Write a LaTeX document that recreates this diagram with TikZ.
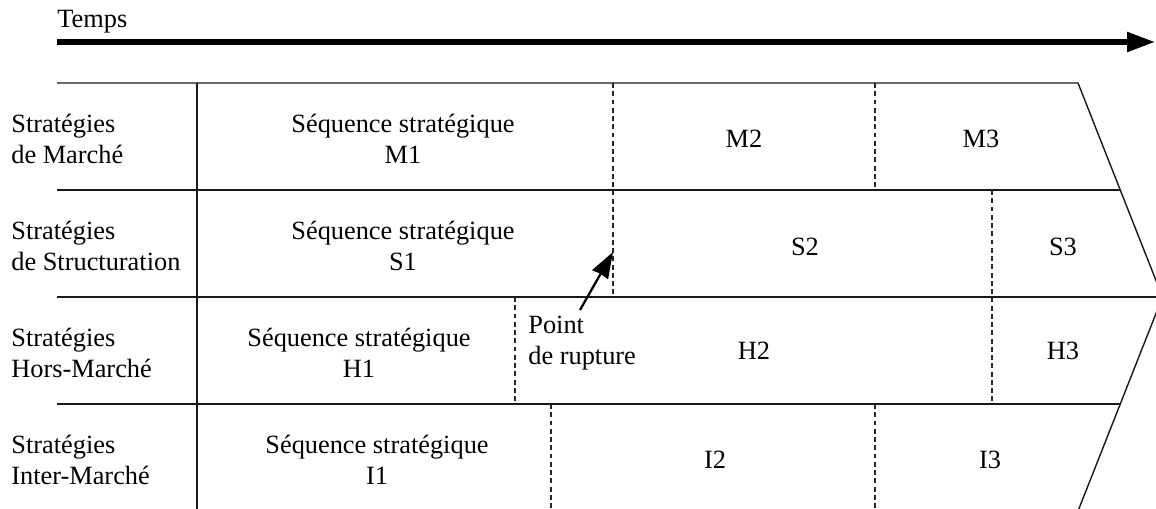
\documentclass[tikz,border=0pt]{standalone}
\usepackage{fontspec}
\setmainfont{Liberation Serif}
\usetikzlibrary{arrows.meta}

\begin{document}
\begin{tikzpicture}[x=0.02cm, y=-0.02cm,
  txt/.style={inner sep=0pt, font=\fontsize{15}{17.6}\selectfont},
  cell/.style={txt, align=center},
  rowlabel/.style={txt, align=left, anchor=west},
  frame/.style={line width=0.8pt, black!90},
  sep/.style={line width=0.7pt, black!85, dash pattern=on 2.8pt off 1.9pt}]
  \useasboundingbox (0,0) rectangle (1156,508);
  \clip (0,0) rectangle (1156,508);

  % Time axis
  \node[txt, anchor=base west] (temps) at (57,27) {Temps};
  \coordinate (t0) at (57,42);
  \coordinate (t1) at (1155,42);
  \draw[line width=3pt, -{Triangle[length=0.56cm, width=0.38cm]}] (t0) -- (t1);

  % Outline, rows end on the chevron
  \def\apex{1162.5}
  \def\slope{0.395}
  \draw[frame] (57,83) -- (1078,83) -- (\apex,297) -- (1078,511) -- (57,511);
  \foreach \y in {190,297,404}
    \draw[frame] (57,\y) -- ({\apex-\slope*abs(297-\y)},\y);
  \draw[frame] (197,83) -- (197,511);

  % Sequence boundaries
  \draw[sep] (613,83) -- (613,297);
  \draw[sep] (875,83) -- (875,190);
  \draw[sep] (992,190) -- (992,404);
  \draw[sep] (515,297) -- (515,404);
  \draw[sep] (551,404) -- (551,511);
  \draw[sep] (875,404) -- (875,511);

  % Row labels
  \node[rowlabel] (lm) at (11,139) {Stratégies\\de Marché};
  \node[rowlabel] (ls) at (11,246) {Stratégies\\de Structuration};
  \node[rowlabel] (lh) at (11,353) {Stratégies\\Hors-Marché};
  \node[rowlabel] (li) at (11,460) {Stratégies\\Inter-Marché};

  % Market row
  \node[cell] (m1) at (403,139) {Séquence stratégique\\M1};
  \node[cell] (m2) at (744,139) {M2};
  \node[cell] (m3) at (981,139) {M3};

  % Structuring row
  \node[cell] (s1) at (403,246) {Séquence stratégique\\S1};
  \node[cell] (s2) at (805,247) {S2};
  \node[cell] (s3) at (1063,247) {S3};

  % Off-market row
  \node[cell] (h1) at (359,353) {Séquence stratégique\\H1};
  \node[cell] (h2) at (754,351) {H2};
  \node[cell] (h3) at (1063,351) {H3};

  % Inter-market row
  \node[cell] (i1) at (377,460) {Séquence stratégique\\I1};
  \node[cell] (i2) at (715,460) {I2};
  \node[cell] (i3) at (990,460) {I3};

  % Break point
  \node[txt, align=left, anchor=north west] (rupt) at (528,316) {Point\\de rupture};
  \coordinate (rupfoot) at ([xshift=1.04cm, yshift=0.12cm]rupt.north west);
  \coordinate (ruptip) at (613,252);
  \draw[line width=1.3pt, -{Stealth[length=0.52cm, width=0.36cm, inset=0.02cm]}] (rupfoot) -- (ruptip);
\end{tikzpicture}
\end{document}
